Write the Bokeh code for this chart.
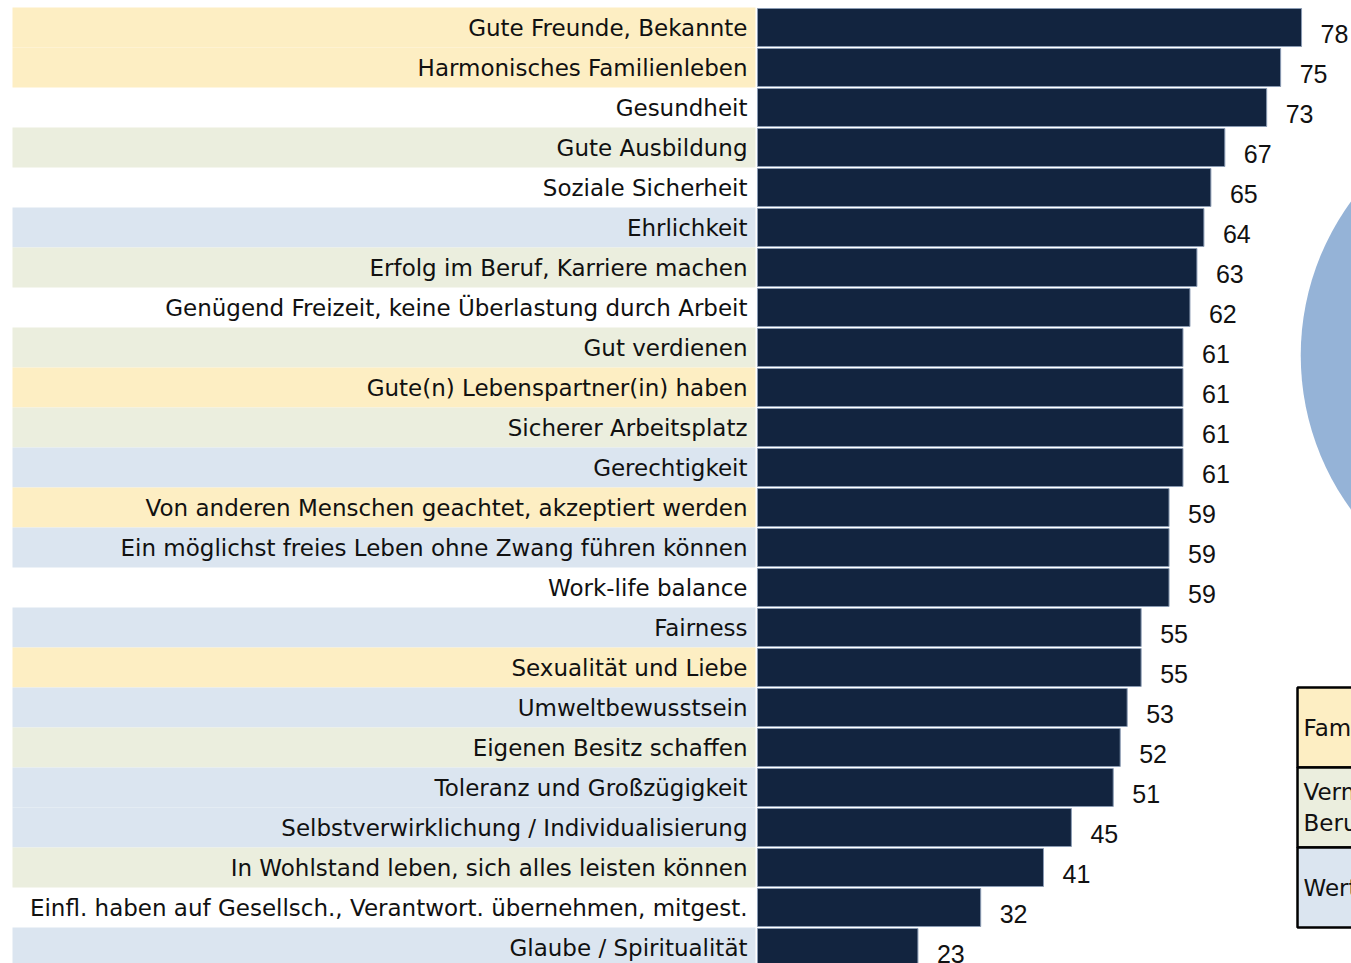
from bokeh.plotting import figure
from bokeh.models import Range1d
from bokeh.core.properties import value
from bokeh.embed import file_html
from bokeh.resources import INLINE
import numpy as np

categories = [
    "Gute Freunde, Bekannte",
    "Harmonisches Familienleben",
    "Gesundheit",
    "Gute Ausbildung",
    "Soziale Sicherheit",
    "Ehrlichkeit",
    "Erfolg im Beruf, Karriere machen",
    "Genügend Freizeit, keine Überlastung durch Arbeit",
    "Gut verdienen",
    "Gute(n) Lebenspartner(in) haben",
    "Sicherer Arbeitsplatz",
    "Gerechtigkeit",
    "Von anderen Menschen geachtet, akzeptiert werden",
    "Ein möglichst freies Leben ohne Zwang führen können",
    "Work-life balance",
    "Fairness",
    "Sexualität und Liebe",
    "Umweltbewusstsein",
    "Eigenen Besitz schaffen",
    "Toleranz und Großzügigkeit",
    "Selbstverwirklichung / Individualisierung",
    "In Wohlstand leben, sich alles leisten können",
    "Einfl. haben auf Gesellsch., Verantwort. übernehmen, mitgest.",
    "Glaube / Spiritualität",
]
values = [78, 75, 73, 67, 65, 64, 63, 62, 61, 61, 61, 61, 59, 59, 59, 55, 55, 53, 52, 51, 45, 41, 32, 23]
groups = ["fam", "fam", "none", "ber", "none", "wer", "ber", "none", "ber", "fam", "ber", "wer",
          "fam", "wer", "none", "wer", "fam", "wer", "ber", "wer", "wer", "ber", "none", "wer"]
group_colors = {"fam": "#FDEEC3", "ber": "#EBEEDE", "wer": "#DBE5F0", "none": "#FFFFFF"}
legend_labels = ["Familie, Freunde", "Vermögen,\nBeruf", "Werte"]
legend_groups = ["fam", "ber", "wer"]

BAR = "#12243F"
CAT_FONT = value("DejaVu Sans")
VAL_FONT = value("Liberation Sans")

ys = np.arange(len(categories))

p = figure(width=1351, height=963, output_backend="svg", toolbar_location=None,
           x_range=Range1d(-108.53, 85.16), y_range=Range1d(23.4, -0.675),
           min_border=0, x_axis_location=None, y_axis_location=None)
p.grid.visible = False
p.outline_line_color = None
p.background_fill_color = "white"
p.border_fill_color = "white"

# label bands
band_y = [y for y, g in zip(ys, groups) if g != "none"]
band_c = [group_colors[g] for g in groups if g != "none"]
p.hbar(y=band_y, left=-106.81, right=-0.29, height=1.0, fill_color=band_c, line_color=None)

# bars
p.hbar(y=ys, left=0, right=values, height=0.95, fill_color=BAR, line_color="#8A9BB3", line_width=1)

# category labels
p.text(x=0, y=ys, text=categories, x_offset=-10, text_align="right", text_baseline="middle",
       text_font=CAT_FONT, text_font_size="23px", text_color="#111111")

# value labels
p.text(x=values, y=ys, text=[str(v) for v in values], x_offset=19, y_offset=6,
       text_align="left", text_baseline="middle", text_font=VAL_FONT, text_font_size="25px",
       text_color="#111111")

# partially visible pie
p.scatter(x=[115.3], y=[8.2], size=522, marker="circle", fill_color="#95B3D7", line_color=None)

# partially visible legend box
lt = [16.5, 18.5, 20.5]
lb = [18.5, 20.5, 22.5]
p.quad(left=77.42, right=95, top=lt, bottom=lb,
       fill_color=[group_colors[g] for g in legend_groups], line_color="black", line_width=2.5)
p.text(x=77.42, y=[17.5, 19.5, 21.5], text=legend_labels, x_offset=6, text_align="left",
       text_baseline="middle", text_font=CAT_FONT, text_font_size="23px", text_color="#111111",
       text_line_height=1.2)

open("out.html", "w").write(file_html(p, INLINE))
